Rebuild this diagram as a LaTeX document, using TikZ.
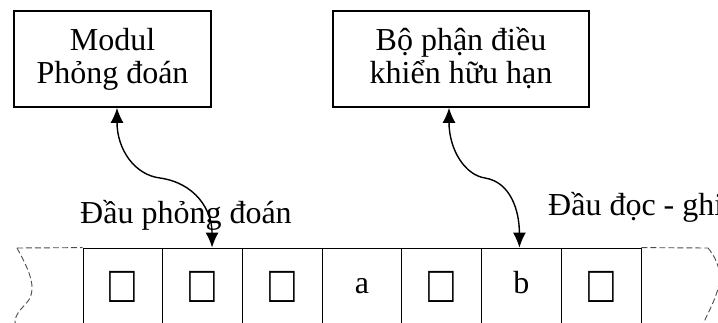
\documentclass[tikz,border=0pt]{standalone}
\usepackage{graphicx}
\usepackage{fontspec}
\setmainfont{Liberation Serif}
\usetikzlibrary{arrows.meta}
\begin{document}
\begin{tikzpicture}[x=1pt,y=-1pt,
  box/.style={draw,line width=1.6pt,minimum height=96pt,inner sep=0pt},
  cell/.style={draw,line width=0.8pt,minimum width=79.71pt,minimum height=92pt,inner sep=0pt},
  lbl/.style={inner sep=0pt,font=\fontsize{32}{33}\selectfont},
  sym/.style={inner sep=0pt,font=\fontsize{52}{54}\selectfont},
  dashline/.style={dashed,dash pattern=on 6pt off 3pt,line width=0.9pt,gray!60!black},
  link/.style={line width=1.4pt,{Latex[length=15pt,width=13pt]}-{Latex[length=15pt,width=13pt]}}]
\useasboundingbox (0,0) rectangle (718,322);
% boxes
\node[box,minimum width=197pt] (m) at (112.5,59) {};
\node[box,minimum width=256pt] (k) at (461,59) {};
\node[lbl,anchor=base] (m1) at (112.5,50) {Modul};
\node[lbl,anchor=base] (m2) at (112.5,83) {Phỏng đoán};
\node[lbl,anchor=base] (k1) at (461,50) {Bộ phận điều};
\node[lbl,anchor=base] (k2) at (461,83) {khiển hữu hạn};
% tape
\foreach \i in {1,...,7}
  \node[cell] (c\i) at ({83+79.71*(\i-0.5)},294) {};
\foreach \i in {1,2,3,5,7}
  \node[sym,anchor=base] (q\i) at (c\i |- 0,302.5) {\scalebox{0.82}[1]{□}};
\node[lbl,anchor=base] (ta) at (c4 |- 0,293) {a};
\node[lbl,anchor=base] (tb) at (c6 |- 0,293) {b};
% dashed ends
\coordinate (lt) at (17,248);
\coordinate (rt) at (708,248);
\draw[dashline] (lt) -- (c1.north west);
\draw[dashline] (lt) .. controls (28,268) and (36,285) .. (30,298) .. controls (26,306) and (14,312) .. (15,324);
\draw[dashline] (c7.north east) -- (rt);
\draw[dashline] (rt) .. controls (730,275) and (716,296) .. (703,324);
% labels
\node[lbl,anchor=base west] (h1) at (80,223) {Đầu phỏng đoán};
\node[lbl,anchor=base west] (h2) at (548,215) {Đầu đọc - ghi};
% connectors
\coordinate (mid1) at (160,178);
\coordinate (mid2) at (485,178);
\draw[link] ([xshift=4.5pt]m.south) .. controls +(0,42) and +(-25,-3) .. (mid1)
   .. controls +(35,5) and +(0,-38) .. ([xshift=9.5pt]c2.north);
\draw[link] ([xshift=-12pt]k.south) .. controls +(0,42) and +(-20,-3) .. (mid2)
   .. controls +(25,4) and +(0,-38) .. ([xshift=-2pt]c6.north);
\end{tikzpicture}
\end{document}
